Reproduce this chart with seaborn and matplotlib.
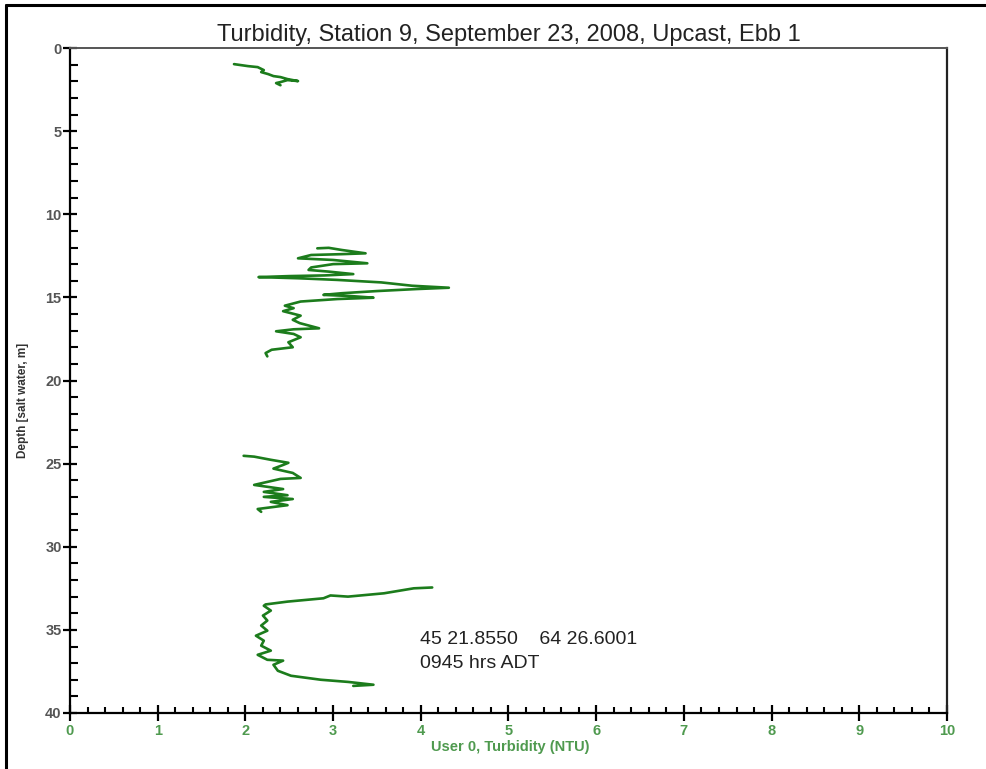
import numpy as np
import pandas as pd
import matplotlib
matplotlib.use("Agg")
import matplotlib.pyplot as plt
from matplotlib.lines import Line2D
from matplotlib.ticker import MultipleLocator
import seaborn as sns

# Turbidity profile (NTU) against depth (m), recorded in four separate bursts
turb_1 = [1.87, 2.03, 2.14, 2.21, 2.18, 2.26, 2.32, 2.40, 2.48, 2.60, 2.48, 2.40, 2.35, 2.40]
depth_1 = [0.97, 1.09, 1.15, 1.33, 1.45, 1.57, 1.69, 1.75, 1.87, 1.99, 1.93, 2.05, 2.11, 2.24]

turb_2 = [2.82, 2.95, 3.10, 3.37, 3.10, 2.75, 2.60, 3.00, 3.39, 3.00, 2.75, 2.72, 2.95, 3.23,
          2.90, 2.50, 2.15, 2.60, 3.05, 3.55, 3.90, 4.32, 3.95, 3.50, 3.10, 2.89, 3.20, 3.46,
          3.05, 2.63, 2.45, 2.55, 2.43, 2.63, 2.54, 2.62, 2.84, 2.55, 2.35, 2.55, 2.63, 2.49,
          2.54, 2.30, 2.23, 2.25]
depth_2 = [12.05, 12.02, 12.15, 12.35, 12.40, 12.45, 12.65, 12.75, 12.95, 13.00, 13.20, 13.35,
           13.45, 13.60, 13.68, 13.72, 13.78, 13.85, 13.95, 14.10, 14.30, 14.42, 14.50, 14.62,
           14.75, 14.85, 14.92, 15.02, 15.10, 15.25, 15.50, 15.65, 15.83, 16.10, 16.35, 16.55,
           16.86, 16.92, 17.04, 17.20, 17.40, 17.70, 18.00, 18.15, 18.35, 18.55]

turb_3 = [1.98, 2.10, 2.29, 2.49, 2.43, 2.32, 2.54, 2.63, 2.40, 2.25, 2.10, 2.43, 2.21, 2.48,
          2.21, 2.54, 2.29, 2.48, 2.14, 2.18]
depth_3 = [24.53, 24.58, 24.77, 24.95, 25.08, 25.30, 25.56, 25.86, 25.92, 26.10, 26.28, 26.53,
           26.70, 26.90, 27.00, 27.13, 27.30, 27.50, 27.73, 27.90]

turb_4 = [4.13, 3.92, 3.58, 3.17, 2.97, 2.89, 2.48, 2.23, 2.21, 2.29, 2.20, 2.25, 2.18, 2.25,
          2.12, 2.21, 2.18, 2.29, 2.14, 2.25, 2.43, 2.32, 2.37, 2.52, 2.86, 3.17, 3.46, 3.23]
depth_4 = [32.45, 32.50, 32.80, 33.00, 32.93, 33.10, 33.30, 33.47, 33.55, 33.84, 34.14, 34.44,
           34.74, 35.05, 35.35, 35.65, 35.95, 36.25, 36.50, 36.80, 36.85, 37.10, 37.46, 37.76,
           38.00, 38.13, 38.30, 38.37]

title = "Turbidity, Station 9, September 23, 2008, Upcast, Ebb 1"
x_label = "User 0, Turbidity (NTU)"
y_label = "Depth [salt water, m]"
position_text = "45 21.8550    64 26.6001"
time_text = "0945 hrs ADT"

frames = []
for k, (t, d) in enumerate([(turb_1, depth_1), (turb_2, depth_2),
                            (turb_3, depth_3), (turb_4, depth_4)]):
    frames.append(pd.DataFrame({"turbidity": t, "depth": d, "burst": k}))
df = pd.concat(frames, ignore_index=True)

sns.set_theme(style="white")
plt.rcParams["font.family"] = ["Liberation Sans", "DejaVu Sans"]

fig = plt.figure(figsize=(9.87, 7.69), dpi=100)
ax = fig.add_axes([70 / 987, 1 - 713 / 769, 877 / 987, 665 / 769])

sns.lineplot(data=df, x="turbidity", y="depth", units="burst", estimator=None,
             sort=False, color="#1c7c1c", linewidth=1.9, ax=ax, legend=False)

ax.set_xlim(0, 10)
ax.set_ylim(40, 0)

ax.xaxis.set_major_locator(MultipleLocator(1))
ax.xaxis.set_minor_locator(MultipleLocator(0.2))
ax.yaxis.set_major_locator(MultipleLocator(5))
ax.yaxis.set_minor_locator(MultipleLocator(1))

ax.tick_params(axis="x", which="major", direction="inout", length=12, width=1.6,
               color="black", labelsize=10.5, labelcolor="#4f9a4f", pad=2,
               bottom=True)
ax.tick_params(axis="x", which="minor", direction="in", length=4, width=1.5,
               color="black", bottom=True)
ax.tick_params(axis="y", which="major", direction="inout", length=10, width=1.6,
               color="black", labelsize=10.5, labelcolor="#555555", pad=1,
               left=True)
ax.tick_params(axis="y", which="minor", direction="in", length=6, width=1.5,
               color="black", left=True)
for lab in ax.get_xticklabels() + ax.get_yticklabels():
    lab.set_fontweight("bold")

for side in ["left", "bottom"]:
    ax.spines[side].set_color("black")
    ax.spines[side].set_linewidth(1.6)
ax.spines["top"].set_color("#555555")
ax.spines["top"].set_linewidth(1.4)
ax.spines["right"].set_color("#222222")
ax.spines["right"].set_linewidth(1.6)

ax.set_title(title, fontsize=17, color="#222222", pad=5)
ax.set_xlabel(x_label, fontsize=10.5, color="#4f9a4f", fontweight="bold")
ax.xaxis.set_label_coords(0.502, -0.040)
ax.set_ylabel(y_label, fontsize=8.5, color="#333333", fontweight="bold")
ax.yaxis.set_label_coords(-0.047, 0.47)

ax.text(3.99, 35.6, position_text, fontsize=14, color="#222222", va="center", ha="left")
ax.text(3.99, 37.0, time_text, fontsize=14, color="#222222", va="center", ha="left")

# outer frame along the top and left edges
fig.add_artist(Line2D([6 / 987, 1.0], [1 - 5 / 769, 1 - 5 / 769],
                      transform=fig.transFigure, color="black", linewidth=2.2))
fig.add_artist(Line2D([6 / 987, 6 / 987], [0.0, 1 - 5 / 769],
                      transform=fig.transFigure, color="black", linewidth=2.2))

fig.savefig("out.png", dpi=100, facecolor="white")
